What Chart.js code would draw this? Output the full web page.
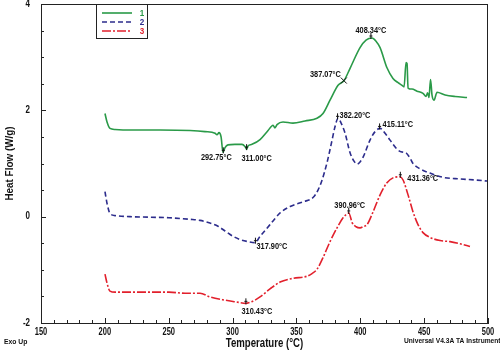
<!DOCTYPE html>
<html>
<head>
<meta charset="utf-8">
<script src="https://cdn.jsdelivr.net/npm/chart.js@4"></script>
<style>
html,body{margin:0;padding:0;background:#fff;}
canvas{display:block;}
</style>
</head>
<body>
<canvas id="c" width="500" height="355" style="width:500px;height:355px"></canvas>
<script>
// ---- data ----
const seriesNames = ['1', '2', '3'];
const t1 = [200.1,201.7,204.0,208.0,219.7,243.2,266.7,278.4,286.3,287.8,289.4,291.0,292.5,294.1,296.4,301.9,307.4,309.7,311.0,312.1,315.2,321.5,327.8,331.7,333.2,334.8,339.5,347.3,356.7,366.1,370.8,376.3,382.6,387.3,392.0,399.8,404.5,409.2,412.3,415.5,420.9,425.6,429.6,432.7,434.3,435.8,436.6,437.4,440.5,444.4,449.1,451.5,452.7,453.8,455.0,456.2,457.7,460.1,466.4,474.2,483.6];
const hf1 = [1.94,1.78,1.66,1.64,1.63,1.63,1.62,1.60,1.57,1.54,1.58,1.50,1.21,1.30,1.35,1.36,1.36,1.32,1.27,1.33,1.36,1.45,1.62,1.72,1.67,1.73,1.78,1.76,1.80,1.85,1.94,2.19,2.47,2.56,2.79,3.18,3.32,3.36,3.30,3.18,2.80,2.60,2.52,2.47,2.44,2.90,2.88,2.42,2.40,2.36,2.32,2.26,2.33,2.24,2.58,2.28,2.19,2.34,2.29,2.26,2.24];
const t2 = [200.1,201.7,204.0,208.0,219.7,235.4,250.2,266.7,274.5,282.3,288.6,294.1,300.4,305.8,312.1,317.6,321.5,325.4,329.3,337.2,345.0,355.2,363.0,366.9,370.1,374.0,377.1,380.3,382.6,385.0,388.1,392.0,395.2,397.5,399.8,402.2,407.6,411.6,415.5,419.4,423.3,428.8,431.9,435.8,439.0,441.3,446.8,454.6,464.8,478.2,489.9,499.3];
const hf2 = [0.47,0.25,0.06,0.02,0.00,-0.01,-0.02,-0.05,-0.07,-0.12,-0.18,-0.27,-0.37,-0.43,-0.47,-0.49,-0.37,-0.26,-0.15,0.07,0.19,0.28,0.36,0.50,0.69,1.02,1.35,1.70,1.85,1.76,1.57,1.20,1.04,0.99,1.03,1.12,1.44,1.60,1.66,1.57,1.44,1.27,1.22,1.20,1.10,1.00,0.90,0.82,0.74,0.71,0.69,0.67];
const t3 = [200.1,201.7,204.0,208.0,227.5,250.2,262.8,274.5,282.3,294.1,301.9,310.5,313.7,317.6,321.5,329.3,337.2,347.3,358.3,362.2,366.1,370.8,376.3,381.8,386.5,388.9,391.0,393.6,396.7,399.8,403.0,405.3,410.0,415.5,420.9,425.6,431.1,433.5,437.4,441.3,445.2,449.1,454.6,462.5,470.3,478.1,485.9];
const hf3 = [-1.08,-1.25,-1.40,-1.42,-1.42,-1.42,-1.44,-1.44,-1.51,-1.57,-1.60,-1.63,-1.61,-1.57,-1.51,-1.36,-1.23,-1.16,-1.12,-1.07,-0.99,-0.77,-0.47,-0.21,-0.02,0.04,0.07,-0.11,-0.19,-0.21,-0.18,-0.15,0.09,0.41,0.64,0.73,0.75,0.69,0.41,0.09,-0.15,-0.30,-0.39,-0.45,-0.47,-0.51,-0.56];
const xTickValues = [150,200,250,300,350,400,450,500];
const yTickLabels = [4,2,0,-2];
const xTitle = 'Temperature (°C)';
const yTitle = 'Heat Flow (W/g)';
// annotations: series index, temperature, value, label
const annTemp   = [292.75,311.00,387.07,408.34,317.90,382.20,415.11,310.43,390.96,431.36];
const annValue  = [1.21,1.27,2.56,3.36,-0.49,1.85,1.66,-1.63,0.07,0.75];
const annText   = ['292.75°C','311.00°C','387.07°C','408.34°C','317.90°C','382.20°C','415.11°C','310.43°C','390.96°C','431.36°C'];

// ---- styles / layout ----
const FONT = '"Liberation Sans",Arial,sans-serif';
const colors = ['#2a9a48', '#2c2c8c', '#e2202c'];
const dashes = [[], [5,3], [9,2,2,2]];
// label placement [dx, dy, align]
const annPlace = [[-7,5,'center'],[10,9,'center'],[-3,-6,'right'],[0,-8,'center'],[1,4,'left'],[2,-3,'left'],[3,-4,'left'],[11,8,'center'],[1,-7,'center'],[7,2,'left']];
const annMark  = ['tick','tick','x','tick','tick','tick','tick','tick','tick','tick'];

function pts(t, v){ return t.map((x,i)=>({x:x, y:v[i]})); }

// draws horizontally condensed text
function cText(ctx, text, x, y, size, sx, align, color, rot){
  ctx.save();
  ctx.translate(x, y);
  if (rot) ctx.rotate(rot);
  ctx.scale(sx, 1);
  ctx.font = 'bold ' + size + 'px ' + FONT;
  ctx.fillStyle = color || '#111';
  ctx.textAlign = align;
  ctx.textBaseline = 'middle';
  ctx.fillText(text, 0, 0);
  ctx.restore();
}

const datasets = [[t1,hf1],[t2,hf2],[t3,hf3]].map((d,i)=>({
  label: seriesNames[i],
  data: pts(d[0], d[1]),
  borderColor: colors[i],
  borderWidth: 1.6,
  borderDash: dashes[i],
  pointRadius: 0,
  fill: false,
  cubicInterpolationMode: 'monotone'
}));

const decor = {
  id: 'decor',
  afterDraw(chart){
    const ctx = chart.ctx, a = chart.chartArea;
    const xs = chart.scales.x, ys = chart.scales.y;
    ctx.save();
    // frame
    ctx.strokeStyle = '#222'; ctx.lineWidth = 1;
    ctx.strokeRect(a.left+0.5, a.top+0.5, a.right-a.left-1, a.bottom-a.top);
    // inner ticks
    ctx.beginPath();
    for (let v = xs.min; v <= xs.max+0.001; v += 10){
      const px = Math.round(xs.getPixelForValue(v))+0.5;
      const len = (v % 50 === 0) ? 5 : 3;
      ctx.moveTo(px, a.bottom); ctx.lineTo(px, a.bottom-len);
    }
    for (let v = ys.min; v <= ys.max+0.001; v += 0.5){
      const py = Math.round(ys.getPixelForValue(v))+0.5;
      const len = (Math.abs(v % 2) < 1e-6) ? 5 : 3;
      ctx.moveTo(a.left, py); ctx.lineTo(a.left+len, py);
    }
    ctx.stroke();
    // tick labels
    xTickValues.forEach(v=>cText(ctx, String(v), xs.getPixelForValue(v), a.bottom+9, 10, 0.75, 'center'));
    yTickLabels.forEach(v=>cText(ctx, String(v), a.left-11, ys.getPixelForValue(v), 10, 0.8, 'right'));
    // axis titles
    cText(ctx, xTitle, (a.left+a.right)/2, 344, 12.5, 0.77, 'center');
    cText(ctx, yTitle, 10, (a.top+a.bottom)/2, 11, 0.9, 'center', '#111', -Math.PI/2);
    // annotations
    for (let i=0;i<annTemp.length;i++){
      const px = xs.getPixelForValue(annTemp[i]);
      const py = ys.getPixelForValue(annValue[i]);
      ctx.strokeStyle = '#111'; ctx.lineWidth = 1;
      ctx.beginPath();
      if (annMark[i] === 'x'){
        ctx.moveTo(px-3,py-3); ctx.lineTo(px+3,py+3);
        ctx.moveTo(px-3,py+3); ctx.lineTo(px+3,py-3);
      } else {
        ctx.moveTo(px,py-5); ctx.lineTo(px,py+1);
        ctx.moveTo(px-1.5,py-2); ctx.lineTo(px+1.5,py-2);
      }
      ctx.stroke();
      const p = annPlace[i];
      cText(ctx, annText[i], px+p[0], py+p[1], 9, 0.82, p[2]);
    }
    // legend box
    const lx = 96, ly = a.top, lw = 51, lh = 34;
    ctx.fillStyle = '#fff';
    ctx.fillRect(lx, ly, lw, lh);
    ctx.strokeStyle = '#222'; ctx.lineWidth = 1;
    ctx.strokeRect(lx+0.5, ly+0.5, lw, lh);
    chart.data.datasets.forEach((ds,i)=>{
      const yy = ly + 9 + i*9;
      ctx.strokeStyle = ds.borderColor; ctx.lineWidth = 1.6;
      ctx.setLineDash(ds.borderDash);
      ctx.beginPath(); ctx.moveTo(lx+6, yy); ctx.lineTo(lx+36, yy); ctx.stroke();
      ctx.setLineDash([]);
      cText(ctx, ds.label, lx+46, yy, 9.5, 0.85, 'center', ds.borderColor);
    });
    // footer texts
    cText(ctx, 'Exo Up', 4, 342, 8, 0.85, 'left');
    cText(ctx, 'Universal V4.3A TA Instruments', 404, 341, 8, 0.83, 'left');
    ctx.restore();
  }
};

new Chart(document.getElementById('c'), {
  type: 'line',
  data: { datasets },
  options: {
    responsive: false,
    animation: false,
    devicePixelRatio: 1,
    layout: { padding: { left: 0, right: 12, top: 4, bottom: 0 } },
    plugins: { legend: { display: false }, tooltip: { enabled: false } },
    scales: {
      x: {
        type: 'linear', min: 150, max: 500,
        afterBuildTicks(s){ s.ticks = xTickValues.map(v=>({value:v})); },
        afterFit(s){ s.height = 32; s.paddingLeft = 0; s.paddingRight = 0; },
        grid: { display: false, drawTicks: false },
        border: { display: true, color: '#222', width: 1 },
        ticks: { display: false }
      },
      y: {
        type: 'linear', min: -2, max: 4,
        afterBuildTicks(s){ s.ticks = yTickLabels.map(v=>({value:v})); },
        afterFit(s){ s.width = 41; s.paddingTop = 0; s.paddingBottom = 0; },
        grid: { display: false, drawTicks: false },
        border: { display: true, color: '#222', width: 1 },
        ticks: { display: false }
      }
    }
  },
  plugins: [decor]
});
</script>
</body>
</html>
